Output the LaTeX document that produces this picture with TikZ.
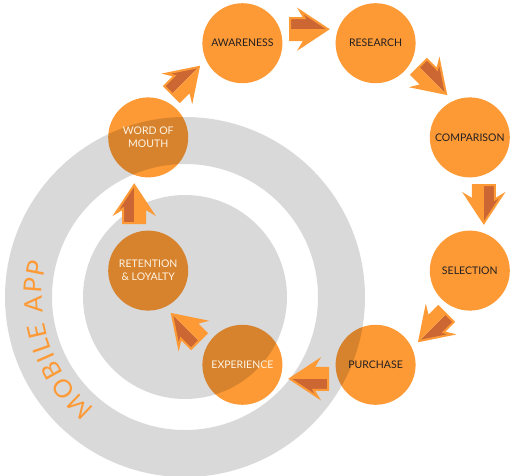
\documentclass[tikz,border=0pt]{standalone}
\usepackage{fontspec}
\setmainfont{Lato}
\usetikzlibrary{calc,decorations.text}

\definecolor{flow}{RGB}{253,154,54}
\definecolor{flowdark}{RGB}{204,102,51}
\definecolor{ringgray}{RGB}{217,217,217}
\definecolor{lighttext}{RGB}{255,244,228}
\definecolor{darktext}{RGB}{35,31,32}

\tikzset{
  stage/.style={circle, minimum size=80pt, inner sep=0pt, align=center,
    font=\fontsize{10.5}{13}\selectfont, text=darktext,
    preaction={fill=flow, blend mode=multiply}},
  inring/.style={text=lighttext},
  flowarrow/.pic={
    \fill[flowdark] (-19,0) -- (-19,11) -- (-4.5,11) -- (-9,18.5) -- (19,0) -- cycle;
    \fill[flow] (-19,0) -- (19,0) -- (-9,-18.5) -- (-4.5,-11) -- (-19,-11) -- cycle;
    \draw[flow, line width=2pt, line join=miter]
      (-19,11) -- (-4.5,11) -- (-9,18.5) -- (19,0) -- (-9,-18.5) -- (-4.5,-11) -- (-19,-11) -- cycle;
  }
}

\begin{document}
\begin{tikzpicture}[x=1pt, y=1pt]
    \useasboundingbox (0,0) rectangle (510,475);

    % mobile app rings
    \coordinate (app) at (185,178);
    \fill[ringgray, even odd rule] (app) circle[radius=180] (app) circle[radius=133];
    \fill[ringgray] (app) circle[radius=102];

    % journey stages
    \node[stage] (awareness) at (242.4,431.8) {AWARENESS};
    \node[stage] (research) at (375.6,431.8) {RESEARCH};
    \node[stage] (comparison) at (469.8,337.6) {COMPARISON};
    \node[stage] (selection) at (469.8,204.4) {SELECTION};
    \node[stage] (purchase) at (375.6,110.2) {PURCHASE};
    \node[stage, inring] (experience) at (242.4,110.2) {EXPERIENCE};
    \node[stage, inring] (retention) at (148.2,204.4) {RETENTION\\\& LOYALTY};
    \node[stage, inring] (wom) at (148.2,337.6) {WORD OF\\MOUTH};

    % arrows between stages
    \pic[rotate=45] at ($(wom)!0.5!(awareness)!14pt!90:(awareness)$) {flowarrow};
    \pic[rotate=0] at ($(awareness)!0.5!(research)!14pt!90:(research)$) {flowarrow};
    \pic[rotate=-45] at ($(research)!0.5!(comparison)!14pt!90:(comparison)$) {flowarrow};
    \pic[rotate=-90] at ($(comparison)!0.5!(selection)!14pt!90:(selection)$) {flowarrow};
    \pic[rotate=-135] at ($(selection)!0.5!(purchase)!14pt!90:(purchase)$) {flowarrow};
    \pic[rotate=180] at ($(purchase)!0.5!(experience)!14pt!90:(experience)$) {flowarrow};
    \pic[rotate=135] at ($(experience)!0.5!(retention)!14pt!90:(retention)$) {flowarrow};
    \pic[rotate=90] at ($(retention)!0.5!(wom)!14pt!90:(wom)$) {flowarrow};

    % label on the ring
    \path[decorate, decoration={text along path, text align=fit to path,
        text={|\color{flow}\fontsize{25}{25}\selectfont|MOBILE APP}}]
      ($(app)+(231:143)$) arc[start angle=231, end angle=166, radius=143];
\end{tikzpicture}
\end{document}
